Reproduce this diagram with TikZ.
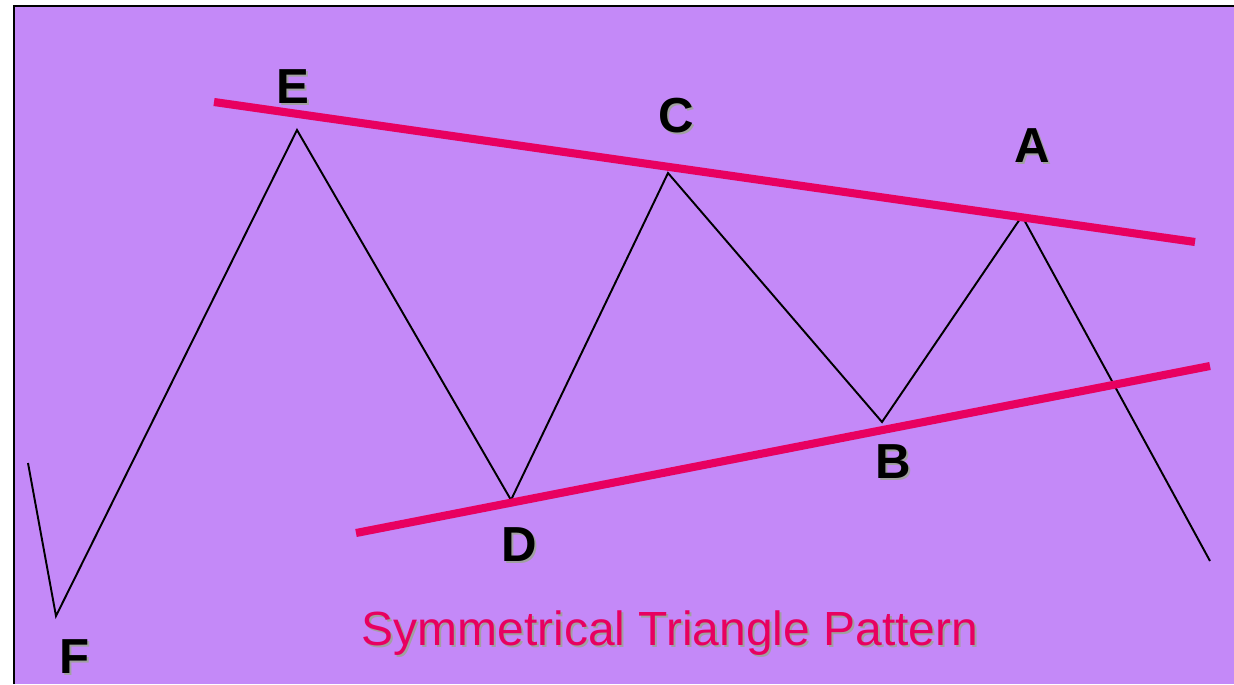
\documentclass[tikz,border=0pt]{standalone}
\usepackage{fontspec}
\setmainfont{Liberation Sans}
\usetikzlibrary{calc}
\definecolor{bgviolet}{RGB}{196,137,248}
\definecolor{trendpink}{RGB}{232,0,96}
\definecolor{shadowgray}{RGB}{160,160,160}
\tikzset{
  wave/.style={black, line width=1.1pt, line join=miter},
  trend/.style={trendpink, line width=4.6pt},
  ptlabel/.style={font=\fontsize{28}{30}\selectfont\bfseries, inner sep=0pt}
}
\newcommand{\shadowtext}[4]{%
  \node[ptlabel, text=shadowgray, #4] at ($(#2)+(2,2)$) {#3};
  \node[ptlabel, #4] (#1) at (#2) {#3};
}
\begin{document}
\begin{tikzpicture}[x=0.02cm, y=-0.02cm]
\useasboundingbox (0,0) rectangle (1234,684);
\fill[white] (0,0) rectangle (1234,684);
\fill[bgviolet] (14,6) rectangle (1234,684);
\draw[line width=1.7pt] (14,684) -- (14,6) -- (1234,6);

% turning points of the price line
\coordinate (start) at (28,463);
\coordinate (F) at (56,616);
\coordinate (E) at (297,130);
\coordinate (D) at (511,500);
\coordinate (C) at (668,173);
\coordinate (B) at (882,422);
\coordinate (A) at (1022,216);
\coordinate (end) at (1210,561);
\draw[wave] (start) -- (F) -- (E) -- (D) -- (C) -- (B) -- (A) -- (end);

% converging trend lines
\coordinate (up1) at (214,102);
\coordinate (up2) at (1195,242);
\coordinate (lo1) at (356,533);
\coordinate (lo2) at (1210,366);
\draw[trend] (up1) -- (up2);
\draw[trend] (lo1) -- (lo2);

% labels
\shadowtext{lE}{293,87}{E}{}
\shadowtext{lC}{676,116}{C}{}
\shadowtext{lA}{1032,146}{A}{}
\shadowtext{lB}{893,462}{B}{}
\shadowtext{lD}{519,545}{D}{}
\shadowtext{lF}{75,657}{F}{}

\node[font=\fontsize{27.3}{30}\selectfont, text=shadowgray, inner sep=0pt] at (672,635) {Symmetrical Triangle Pattern};
\node[font=\fontsize{27.3}{30}\selectfont, text=trendpink, inner sep=0pt] (title) at (670,633) {Symmetrical Triangle Pattern};
\end{tikzpicture}
\end{document}
